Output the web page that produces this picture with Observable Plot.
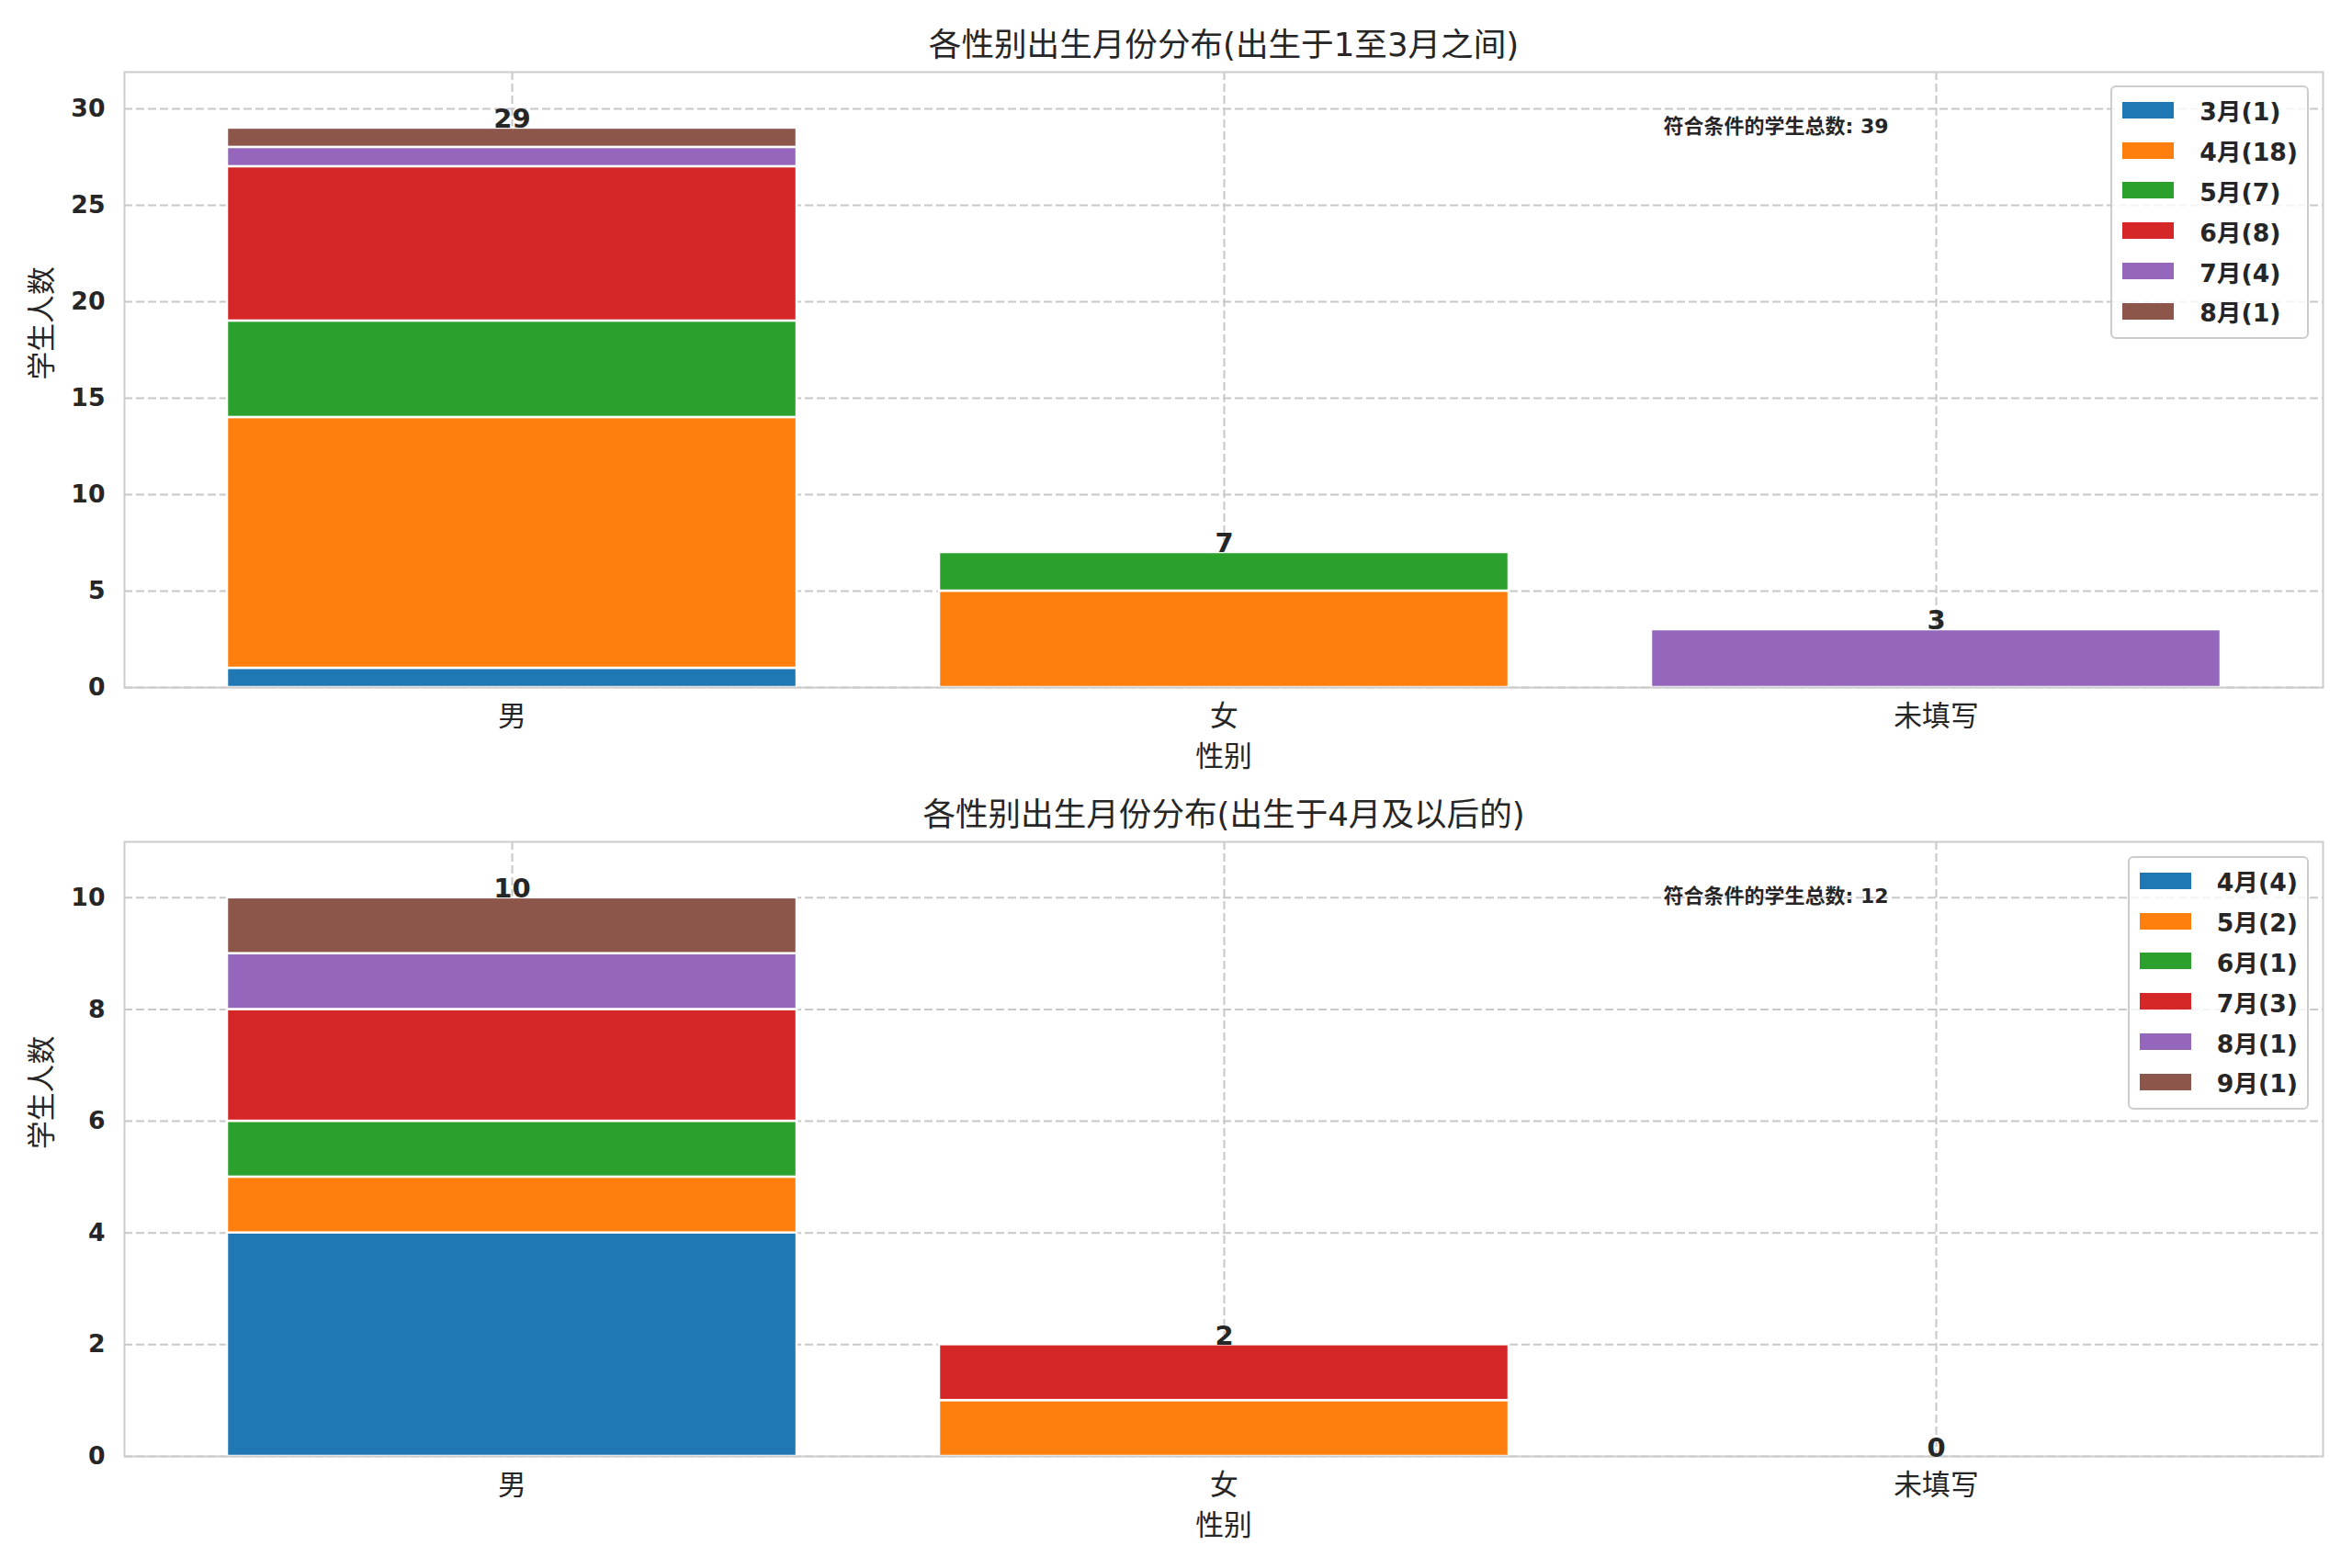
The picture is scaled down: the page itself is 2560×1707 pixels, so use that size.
<!DOCTYPE html>
<html>
<head>
<meta charset="utf-8">
<script src="https://cdn.jsdelivr.net/npm/d3@7"></script>
<script src="https://cdn.jsdelivr.net/npm/@observablehq/plot@0.6"></script>
<style>
  html, body { margin: 0; padding: 0; background: #fff; }
  #wrap { position: relative; width: 2560px; height: 1707px; background: #fff; font-family: "DejaVu Sans", "Noto Sans CJK SC", sans-serif; color: #262626; }
  #wrap svg { display: block; }
  .legend { position: absolute; border: 2px solid #cccccc; border-radius: 6px; background: rgba(255,255,255,0.8); padding: 3px 10px 6px 11px; box-sizing: border-box; }
  .legend .row { height: 43.8px; display: flex; align-items: center; }
  .legend .sw { width: 56px; height: 18px; margin-right: 28px; }
  .legend .lab { font-size: 26.7px; font-weight: bold; color: #262626; white-space: nowrap; }
</style>
</head>
<body>
<div id="wrap"></div>
<script>
// ---- data ----
const categories = ["男", "女", "未填写"];
const xLabel = "性别";
const yLabel = "学生人数";
const noteLabel = "符合条件的学生总数";
const palette = ["#1f77b4", "#ff7f0e", "#2ca02c", "#d62728", "#9467bd", "#8c564b"];

// chart 1
const title1 = "各性别出生月份分布(出生于1至3月之间)";
const months1 = ["3月", "4月", "5月", "6月", "7月", "8月"];
const male1 = [1, 13, 5, 8, 1, 1];
const female1 = [0, 5, 2, 0, 0, 0];
const unknown1 = [0, 0, 0, 0, 3, 0];
const yTicks1 = [0, 5, 10, 15, 20, 25, 30];

// chart 2
const title2 = "各性别出生月份分布(出生于4月及以后的)";
const months2 = ["4月", "5月", "6月", "7月", "8月", "9月"];
const male2 = [4, 1, 1, 2, 1, 1];
const female2 = [0, 1, 0, 1, 0, 0];
const unknown2 = [0, 0, 0, 0, 0, 0];
const yTicks2 = [0, 2, 4, 6, 8, 10];

const W = 2560, mL = 135, mR = 32;
const frameW = W - mL - mR;

function makeChart({months, series, yTicks, title, height, mTop, mBottom}) {
  const rows = [];
  categories.forEach((c, ci) => months.forEach((m, mi) => {
    const v = series[ci][mi];
    if (v > 0) rows.push({cat: c, month: m, value: v});
  }));
  const totals = categories.map((c, ci) => ({cat: c, total: d3.sum(series[ci])}));
  const grand = d3.sum(totals, d => d.total);
  const ymax = d3.max(totals, d => d.total) * 1.1;
  const gridStyle = {stroke: "#c8c8c8", strokeOpacity: 1, strokeWidth: 2, strokeDasharray: "9,4"};
  const svg = Plot.plot({
    width: W,
    height: height,
    marginLeft: mL,
    marginRight: mR,
    marginTop: mTop,
    marginBottom: mBottom,
    style: {fontFamily: '"DejaVu Sans", "Noto Sans CJK SC", sans-serif', color: "#262626", background: "#fff", fontSize: "26.7px"},
    x: {type: "band", domain: categories, paddingInner: 0.2, paddingOuter: 0.142, label: null},
    y: {domain: [0, ymax], label: null},
    color: {domain: months, range: palette},
    marks: [
      Plot.gridY(yTicks, gridStyle),
      Plot.gridX(categories, gridStyle),
      Plot.barY(rows, {x: "cat", y: "value", fill: "month", stroke: "white", strokeWidth: 2.5}),
      Plot.frame({stroke: "#cccccc", strokeWidth: 2}),
      Plot.axisY(yTicks, {tickSize: 0, tickPadding: 21, tickFormat: d3.format("d"), fontSize: 26.7, fontWeight: "bold", label: null}),
      Plot.axisX({tickSize: 0, tickPadding: 20, fontSize: 30.8, label: null}),
      Plot.text(totals, {x: "cat", y: "total", text: d => String(d.total), lineAnchor: "bottom", fontSize: 29, fontWeight: "bold", fill: "#262626"}),
      Plot.text([title], {frameAnchor: "top", dy: -29, lineAnchor: "middle", fontSize: 35.6, fill: "#262626"}),
      Plot.text([xLabel], {frameAnchor: "bottom", dy: 76, lineAnchor: "middle", fontSize: 30.8, fill: "#262626"}),
      Plot.text([yLabel], {frameAnchor: "left", dx: -89, rotate: -90, lineAnchor: "middle", fontSize: 30.8, fill: "#262626"}),
      Plot.text([`${noteLabel}: ${grand}`], {frameAnchor: "top-left", dx: 0.7 * frameW, dy: 59, textAnchor: "start", lineAnchor: "middle", fontSize: 22, fontWeight: "bold", fill: "#262626"})
    ]
  });
  const legendCounts = months.map((m, mi) => d3.sum(series, s => s[mi]));
  return {svg, legendCounts};
}

function makeLegend(months, counts, top) {
  const div = document.createElement("div");
  div.className = "legend";
  div.style.right = "47px";
  div.style.top = top + "px";
  months.forEach((m, i) => {
    const row = document.createElement("div");
    row.className = "row";
    const sw = document.createElement("div");
    sw.className = "sw";
    sw.style.background = palette[i];
    const lab = document.createElement("span");
    lab.className = "lab";
    lab.textContent = `${m}(${counts[i]})`;
    row.appendChild(sw); row.appendChild(lab);
    div.appendChild(row);
  });
  return div;
}

const wrap = document.getElementById("wrap");
const c1 = makeChart({months: months1, series: [male1, female1, unknown1], yTicks: yTicks1, title: title1, height: 853, mTop: 78, mBottom: 105});
const c2 = makeChart({months: months2, series: [male2, female2, unknown2], yTicks: yTicks2, title: title2, height: 854, mTop: 63, mBottom: 122});
wrap.appendChild(c1.svg);
wrap.appendChild(c2.svg);
wrap.appendChild(makeLegend(months1, c1.legendCounts, 93));
wrap.appendChild(makeLegend(months2, c2.legendCounts, 932));
</script>
</body>
</html>
